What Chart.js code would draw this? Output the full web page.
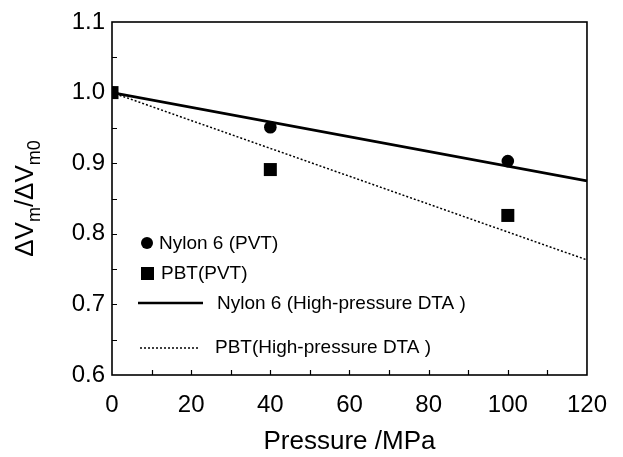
<!DOCTYPE html>
<html><head><meta charset="utf-8">
<script src="https://cdn.jsdelivr.net/npm/chart.js@4"></script>
<style>html,body{margin:0;padding:0;background:#fff}#wrap{width:623px;height:457px;position:relative}</style>
</head><body><div id="wrap"><canvas id="c" width="623" height="457"></canvas></div>
<script>
const xTickLabels = ['0','20','40','60','80','100','120'];
const yTickLabels = ['0.6','0.7','0.8','0.9','1.0','1.1'];
const pvtPressures = [0, 40, 100];
const nylonPVT = [1.0, 0.951, 0.903];
const pbtPVT = [1.0, 0.891, 0.826];
const dtaPressures = [0, 120];
const nylonDTA = [1.0, 0.875];
const pbtDTA = [1.0, 0.763];
const seriesNames = ['Nylon 6 (PVT)', 'PBT(PVT)', 'Nylon 6 (High-pressure DTA )', 'PBT(High-pressure DTA )'];
const xTitle = 'Pressure /MPa';
const yTitleParts = [['ΔV', false], ['m', true], ['/ΔV', false], ['m0', true]];

const FONT = "'Liberation Sans', Arial, Helvetica, sans-serif";
const pts = (xs, ys) => xs.map((x, i) => ({x: x, y: ys[i]}));

const decor = {
  id: 'decor',
  beforeDatasetsDraw(chart) {
    const ctx = chart.ctx, a = chart.chartArea;
    const xs = chart.scales.x, ys = chart.scales.y;
    ctx.save();
    ctx.strokeStyle = '#000';
    ctx.lineWidth = 1.2;
    ctx.beginPath();
    for (let v = 10; v < 120; v += 10) {
      const px = Math.round(xs.getPixelForValue(v)) + 0.5;
      ctx.moveTo(px, a.bottom); ctx.lineTo(px, a.bottom - 5);
    }
    for (let k = 1; k < 10; k++) {
      const py = Math.round(ys.getPixelForValue(0.6 + k * 0.05)) + 0.5;
      ctx.moveTo(a.left, py); ctx.lineTo(a.left + 5, py);
    }
    ctx.stroke();
    ctx.lineWidth = 1.6;
    ctx.strokeRect(a.left, a.top, a.right - a.left, a.bottom - a.top);
    ctx.restore();
  },
  afterDraw(chart) {
    const ctx = chart.ctx, a = chart.chartArea;
    const ds = chart.data.datasets;
    ctx.save();
    ctx.fillStyle = '#000';
    ctx.strokeStyle = '#000';
    ctx.font = '19px ' + FONT;
    ctx.textBaseline = 'middle';
    ctx.textAlign = 'left';
    ctx.beginPath(); ctx.arc(147, 243, 6, 0, Math.PI * 2); ctx.fill();
    ctx.fillText(ds[0].label, 159, 244);
    ctx.fillRect(141, 267, 13, 13);
    ctx.fillText(ds[1].label, 161, 274);
    ctx.lineWidth = ds[2].borderWidth;
    ctx.beginPath(); ctx.moveTo(138, 303); ctx.lineTo(203, 303); ctx.stroke();
    ctx.fillText(ds[2].label, 217, 304);
    ctx.lineWidth = ds[3].borderWidth;
    ctx.setLineDash(ds[3].borderDash);
    ctx.beginPath(); ctx.moveTo(140, 348); ctx.lineTo(200, 348); ctx.stroke();
    ctx.setLineDash([]);
    ctx.fillText(ds[3].label, 215, 348);
    const big = '26px ' + FONT, small = '18px ' + FONT;
    let total = 0;
    yTitleParts.forEach(p => { ctx.font = p[1] ? small : big; total += ctx.measureText(p[0]).width; });
    ctx.translate(33, (a.top + a.bottom) / 2);
    ctx.rotate(-Math.PI / 2);
    ctx.textBaseline = 'alphabetic';
    let x = -total / 2;
    yTitleParts.forEach(p => {
      ctx.font = p[1] ? small : big;
      ctx.fillText(p[0], x, p[1] ? 7 : 0);
      x += ctx.measureText(p[0]).width;
    });
    ctx.restore();
  }
};

new Chart(document.getElementById('c'), {
  type: 'scatter',
  data: {
    datasets: [
      { label: seriesNames[0], data: pts(pvtPressures, nylonPVT), pointStyle: 'circle', pointRadius: 6.3, pointBorderWidth: 0, backgroundColor: '#000', borderColor: '#000', order: 1 },
      { label: seriesNames[1], data: pts(pvtPressures, pbtPVT), pointStyle: 'rect', pointRadius: 9.2, pointBorderWidth: 0, backgroundColor: '#000', borderColor: '#000', order: 0 },
      { label: seriesNames[2], data: pts(dtaPressures, nylonDTA), showLine: true, pointRadius: 0, borderWidth: 2.6, borderColor: '#000', backgroundColor: '#000', order: 3 },
      { label: seriesNames[3], data: pts(dtaPressures, pbtDTA), showLine: true, pointRadius: 0, borderWidth: 1.5, borderDash: [2, 2], borderColor: '#000', backgroundColor: '#000', order: 2 }
    ]
  },
  options: {
    responsive: false,
    animation: false,
    devicePixelRatio: 1,
    layout: { padding: { top: 22, right: 26, left: 0, bottom: 0 } },
    plugins: { legend: { display: false }, tooltip: { enabled: false } },
    scales: {
      x: {
        type: 'linear', min: 0, max: 120,
        grid: { display: false, drawTicks: false },
        border: { display: false },
        ticks: { stepSize: 20, padding: 16, color: '#000', font: { family: FONT, size: 24 },
          callback: v => xTickLabels.find(l => Number(l) === v) },
        title: { display: true, text: xTitle, color: '#000', font: { family: FONT, size: 26 }, padding: { top: 0, bottom: 0 } },
        afterFit: s => { s.height = 82; }
      },
      y: {
        type: 'linear', min: 0.6, max: 1.1,
        grid: { display: false, drawTicks: false },
        border: { display: false },
        ticks: { stepSize: 0.1, padding: 7, color: '#000', font: { family: FONT, size: 24 },
          callback: v => yTickLabels.find(l => Math.abs(Number(l) - v) < 1e-6) },
        afterFit: s => { s.width = 112; }
      }
    }
  },
  plugins: [decor]
});
</script></body></html>
